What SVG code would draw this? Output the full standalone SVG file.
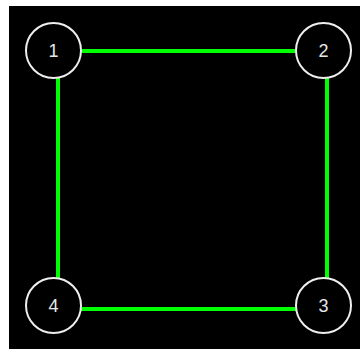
<svg xmlns="http://www.w3.org/2000/svg" width="360" height="349" viewBox="0 0 360 349">
<style>
.edge{stroke:#00ff00;stroke-width:4;fill:none}
.node circle{fill:#000;stroke:#eeeeee;stroke-width:2}
.node text{fill:#e6e6e6;font-family:"Liberation Sans",Arial,sans-serif;font-size:18px;text-anchor:middle}
</style>
<rect x="0" y="0" width="360" height="349" fill="#ffffff"/>
<rect x="9" y="6" width="351" height="343" fill="#000000"/>
<g id="connectors">
<line class="edge" x1="81" y1="51" x2="296" y2="51"/>
<line class="edge" x1="327" y1="78" x2="327" y2="279"/>
<line class="edge" x1="296" y1="309" x2="81" y2="309"/>
<line class="edge" x1="58" y1="279" x2="58" y2="78"/>
</g>
<g id="node1" class="node"><circle cx="53.5" cy="50.5" r="27.5"/><text x="53.5" y="57">1</text></g>
<g id="node2" class="node"><circle cx="323.5" cy="50.5" r="27.5"/><text x="323.5" y="57">2</text></g>
<g id="node3" class="node"><circle cx="323.5" cy="305.5" r="27.5"/><text x="323.5" y="312">3</text></g>
<g id="node4" class="node"><circle cx="53.5" cy="305.5" r="27.5"/><text x="53.5" y="312">4</text></g>
</svg>
